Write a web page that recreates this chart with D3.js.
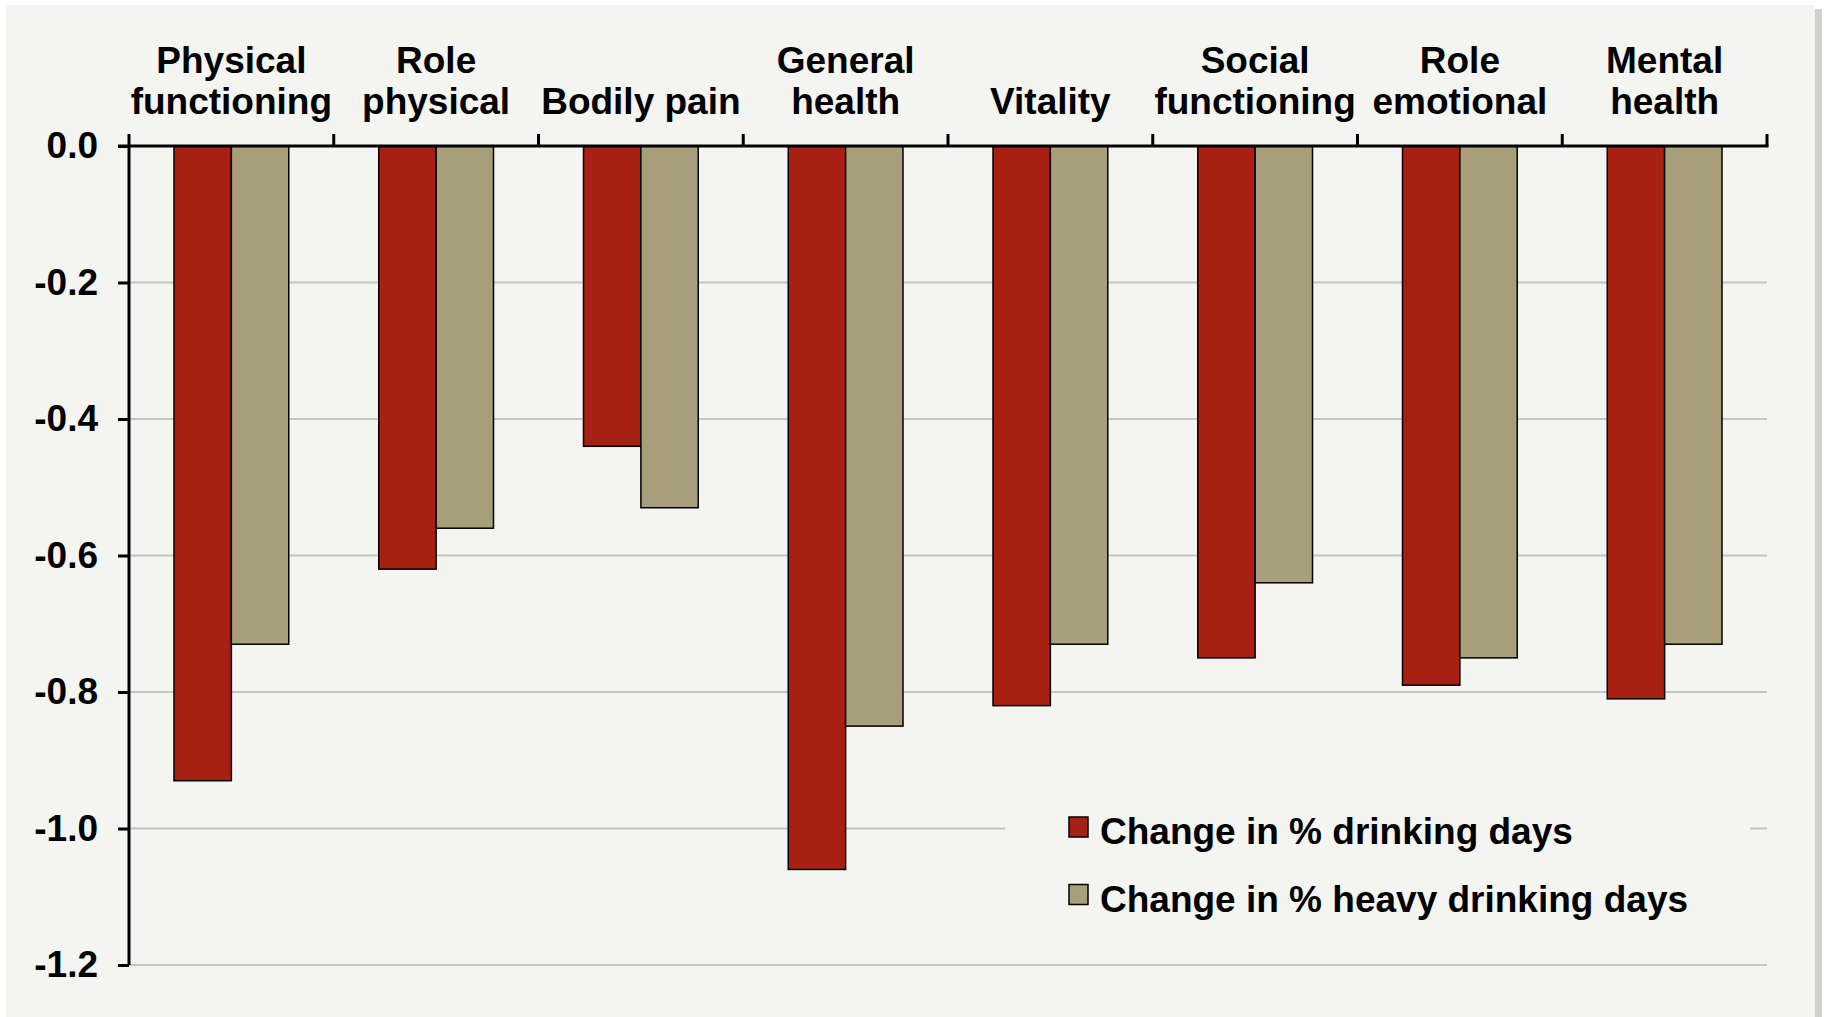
<!DOCTYPE html>
<html>
<head>
<meta charset="utf-8">
<script src="https://cdn.jsdelivr.net/npm/d3@7"></script>
<style>
  body { margin: 0; background: #ffffff; }
  text { font-family: "Liberation Sans", Arial, sans-serif; font-weight: bold; fill: #000; }
</style>
</head>
<body>
<div id="chart"></div>
<script>
// categories (label lines) and series values
const categories = [
    ["Physical", "functioning"],
    ["Role", "physical"],
    ["Bodily pain"],
    ["General", "health"],
    ["Vitality"],
    ["Social", "functioning"],
    ["Role", "emotional"],
    ["Mental", "health"]
];
const drinkingDays = [-0.93, -0.62, -0.44, -1.06, -0.82, -0.75, -0.79, -0.81];
const heavyDrinkingDays = [-0.73, -0.56, -0.53, -0.85, -0.73, -0.64, -0.75, -0.73];
const seriesNames = ["Change in % drinking days", "Change in % heavy drinking days"];
const yTicks = [0, -0.2, -0.4, -0.6, -0.8, -1.0, -1.2];

const width = 1825;
const height = 1017;
const colors = ["#a82013", "#a69f79"];
const bg = "#f4f4f0";

const svg = d3.select("#chart")
    .append("svg")
    .attr("width", width)
    .attr("height", height);

// panel with a soft shadow on the right
svg.append("rect")
    .attr("x", 10).attr("y", 9)
    .attr("width", 1812).attr("height", 1012)
    .attr("fill", "#cfcfcf");
svg.append("rect")
    .attr("x", 6).attr("y", 5)
    .attr("width", 1809).attr("height", 1012)
    .attr("fill", bg);

const plotLeft = 129, plotRight = 1767, plotTop = 146, plotBottom = 965;

const x = d3.scaleBand()
    .domain(d3.range(categories.length))
    .range([plotLeft, plotRight])
    .paddingInner(0)
    .paddingOuter(0);

const inner = d3.scaleBand()
    .domain([0, 1])
    .range([45, x.bandwidth() - 45]);

const y = d3.scaleLinear()
    .domain([0, -1.2])
    .range([plotTop, plotBottom]);

// gridlines
svg.append("g")
    .selectAll("line")
    .data(yTicks.filter(d => d !== 0))
    .enter().append("line")
    .attr("x1", plotLeft)
    .attr("x2", plotRight)
    .attr("y1", d => y(d))
    .attr("y2", d => y(d))
    .attr("stroke", "#c4c4c4")
    .attr("stroke-width", 2);

// bars
const series = [drinkingDays, heavyDrinkingDays];
series.forEach((vals, s) => {
    svg.append("g")
        .selectAll("rect")
        .data(vals)
        .enter().append("rect")
        .attr("x", (d, i) => x(i) + inner(s))
        .attr("y", y(0))
        .attr("width", inner.bandwidth())
        .attr("height", d => y(d) - y(0))
        .attr("fill", colors[s])
        .attr("stroke", "#000")
        .attr("stroke-width", 1.5);
});

// y axis (plain hyphen for the minus sign, as in the original)
const fmt = d => d3.format(".1f")(d).replace("\u2212", "-");
const yAxis = svg.append("g")
    .attr("transform", `translate(${plotLeft},0)`)
    .call(d3.axisLeft(y).tickValues(yTicks).tickFormat(fmt).tickSize(11).tickPadding(20));
yAxis.select(".domain").attr("stroke", "#000").attr("stroke-width", 3)
    .attr("d", `M0,${plotTop}V${plotBottom}`);
yAxis.selectAll(".tick line").attr("stroke", "#000").attr("stroke-width", 3);
yAxis.selectAll(".tick text")
    .attr("font-size", "37px")
    .style("font-family", '"Liberation Sans", Arial, sans-serif')
    .style("font-weight", "bold")
    .text(d => d === 0 ? "0.0" : fmt(d));

// x axis at zero, with ticks between categories pointing up
const boundaries = d3.range(categories.length + 1).map(i => plotLeft + i * x.bandwidth());
svg.append("line")
    .attr("x1", plotLeft - 11).attr("x2", plotRight + 1.5)
    .attr("y1", y(0)).attr("y2", y(0))
    .attr("stroke", "#000").attr("stroke-width", 3);
svg.append("g")
    .selectAll("line")
    .data(boundaries)
    .enter().append("line")
    .attr("x1", d => d).attr("x2", d => d)
    .attr("y1", y(0) - 12).attr("y2", y(0))
    .attr("stroke", "#000").attr("stroke-width", 3);

// category labels above the axis
const labels = svg.append("g")
    .selectAll("text")
    .data(categories)
    .enter().append("text")
    .attr("x", (d, i) => x(i) + x.bandwidth() / 2)
    .attr("text-anchor", "middle")
    .attr("font-size", "37px");
labels.each(function(d) {
    const t = d3.select(this);
    const lines = d.length === 1 ? [null, d[0]] : d;
    lines.forEach((ln, k) => {
        if (ln === null) return;
        t.append("tspan")
            .attr("x", t.attr("x"))
            .attr("y", 73 + k * 41)
            .text(ln);
    });
});

// legend (covers the gridline behind it)
const legend = svg.append("g");
legend.append("rect")
    .attr("x", 1005).attr("y", 790)
    .attr("width", 745).attr("height", 150)
    .attr("fill", bg);
seriesNames.forEach((name, i) => {
    legend.append("rect")
        .attr("x", 1069)
        .attr("y", 817 + i * 67.5)
        .attr("width", 19)
        .attr("height", 20)
        .attr("fill", colors[i])
        .attr("stroke", "#000")
        .attr("stroke-width", 1.5);
    legend.append("text")
        .attr("x", 1100)
        .attr("y", 844 + i * 67.5)
        .attr("font-size", "37px")
        .text(name);
});
</script>
</body>
</html>
